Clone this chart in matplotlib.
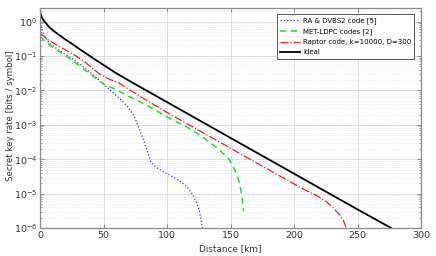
import numpy as np
import matplotlib
matplotlib.use("Agg")
import matplotlib.pyplot as plt
from matplotlib.ticker import LogLocator, NullFormatter, MultipleLocator

# distances [km] and log10 of secret key rate
ra_d = [0, 1, 2, 4, 6, 10, 14, 20, 25, 30, 37, 42, 47, 51, 56, 60, 65, 70, 74, 78, 82, 87.5,
        92, 100, 107, 112, 116, 120, 123, 125, 126.5, 127.7]
ra_log = [-0.04, -0.17, -0.27, -0.45, -0.57, -0.70, -0.81, -0.95, -1.07, -1.20, -1.40, -1.55,
          -1.72, -1.86, -2.02, -2.15, -2.32, -2.52, -2.75, -3.1, -3.5, -4.1,
          -4.25, -4.42, -4.56, -4.69, -4.82, -5.02, -5.25, -5.45, -5.7, -6.0]

met_d = [0, 5, 11, 24.5, 37, 45, 51, 60, 70, 85, 100, 115, 126, 135, 141, 149, 154.5, 157, 159, 160]
met_log = [-0.43, -0.6, -0.77, -1.10, -1.45, -1.68, -1.83, -1.98, -2.17, -2.45, -2.77, -3.05,
           -3.3, -3.55, -3.72, -4.01, -4.40, -4.69, -5.1, -5.5]

rap_d = [0, 3, 6, 14, 24.5, 35, 42, 48, 55, 62, 70, 80, 100, 150, 200, 210, 218, 225, 231, 236, 239, 241]
rap_log = [-0.33, -0.43, -0.52, -0.70, -0.91, -1.16, -1.38, -1.55, -1.68, -1.78, -1.97, -2.2,
           -2.64, -3.68, -4.72, -4.92, -5.06, -5.22, -5.42, -5.62, -5.8, -6.0]

ideal_d = [0, 1, 2, 4, 7, 10, 14, 20, 25, 30, 40, 50, 60, 75, 100, 150, 200, 250, 276.5]
ideal_log = [0.27, 0.15, 0.08, -0.02, -0.15, -0.25, -0.36, -0.52, -0.64, -0.77, -1.02, -1.26,
             -1.5, -1.82, -2.34, -3.38, -4.42, -5.46, -6.0]

labels = ["RA & DVBS2 code [5]", "MET-LDPC codes [2]", "Raptor code, k=10000, D=300", "Ideal"]
x_ticks = [0, 50, 100, 150, 200, 250, 300]
y_tick_exps = [-6, -5, -4, -3, -2, -1, 0]

fig = plt.figure(figsize=(4.36, 2.56), dpi=100)
ax = fig.add_axes([0.092, 0.109, 0.874, 0.860])

ax.semilogy(ra_d, 10 ** np.array(ra_log), color="#3333ff", ls=":", lw=0.9, label=labels[0])
ax.semilogy(met_d, 10 ** np.array(met_log), color="#22dd22", ls=(0, (4, 3)), lw=1.1, label=labels[1])
ax.semilogy(rap_d, 10 ** np.array(rap_log), color="#ff1a1a", ls="-.", lw=0.9, label=labels[2])
ax.semilogy(ideal_d, 10 ** np.array(ideal_log), color="black", ls="-", lw=1.3, label=labels[3])

ax.set_xlim(0, 300)
ax.set_ylim(1e-6, 10 ** 0.4)
ax.set_xticks(x_ticks)
ax.set_xticklabels([str(t) for t in x_ticks])
ax.set_yticks([10.0 ** e for e in y_tick_exps])
ax.set_yticklabels([r"$10^{%d}$" % e for e in y_tick_exps])
minor = [m * 10.0 ** e for e in range(-6, 1) for m in range(2, 10) if m * 10.0 ** e < 10 ** 0.4]
ax.set_yticks(minor, minor=True)
ax.yaxis.set_minor_formatter(NullFormatter())

ax.grid(True, which="major", color="#d9d9d9", lw=0.6)
ax.grid(True, which="minor", axis="y", color="#e0e0e0", lw=0.5, ls=":")
ax.set_axisbelow(True)

for s in ax.spines.values():
    s.set_color("#8c8c8c")
    s.set_linewidth(0.9)
ax.tick_params(which="both", direction="in", top=True, right=True, colors="#8c8c8c",
               labelcolor="#333333", labelsize=6.8, pad=2)
ax.tick_params(which="major", length=3)
ax.tick_params(which="minor", length=1.5)

ax.set_xlabel("Distance [km]", fontsize=6.4, color="#333333", labelpad=3)
ax.set_ylabel("Secret key rate [bits / symbol]", fontsize=6.2, color="#333333")
ax.yaxis.set_label_coords(-0.066, 0.51)

leg = ax.legend(loc="upper right", fontsize=5.0, handlelength=2.9, handletextpad=0.4,
                borderpad=0.45, labelspacing=0.62, fancybox=False, framealpha=1,
                borderaxespad=0, bbox_to_anchor=(0.982, 0.973))
leg.get_frame().set_edgecolor("#555555")
leg.get_frame().set_linewidth(0.7)

fig.savefig("out.png", dpi=100)
